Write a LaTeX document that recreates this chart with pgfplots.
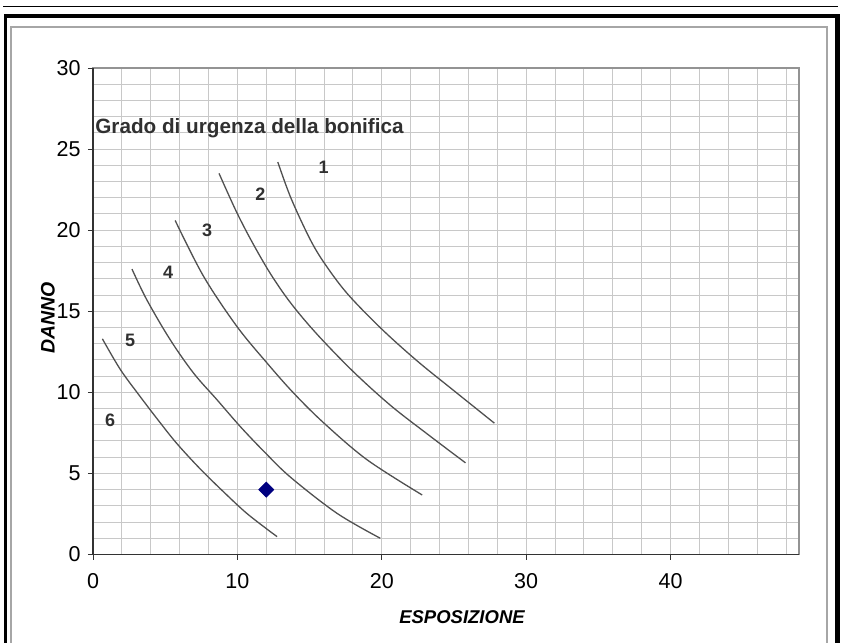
\documentclass[border=0pt]{standalone}
\usepackage{pgfplots}
\pgfplotsset{compat=1.18}
\usepackage{fontspec}
\setmainfont{Liberation Sans}
\definecolor{curvegray}{HTML}{505050}
\definecolor{gridgray}{HTML}{C8C8C8}
\definecolor{txtgray}{HTML}{303030}
\begin{document}
\begin{tikzpicture}[x=1pt,y=1pt]
\useasboundingbox (0,0) rectangle (850,642);
% outer frame
\draw[black, line width=1.5pt] (3,635.7) -- (838,635.7);
\fill[black] (4,624) rectangle (840,627.5);
\fill[black] (4,-5) rectangle (6.5,627.5);
\fill[black] (835,-5) rectangle (840,627.5);
\draw[gray!70, line width=1.3pt] (11,-5) -- (11,615) -- (827,615) -- (827,-5);
\begin{axis}[
  at={(93pt,87.5pt)}, anchor=south west,
  scale only axis, width=706pt, height=486.5pt,
  xmin=0, xmax=48.9, ymin=0, ymax=30,
  xtick={0,10,...,40}, ytick={0,5,...,30},
  minor xtick={2,4,...,48}, minor ytick={1,2,...,29},
  grid=both,
  grid style={draw=gridgray, line width=1pt},
  major grid style={draw=gridgray, line width=1pt},
  tick align=outside,
  major tick length=5pt, minor tick length=0pt,
  tick style={draw=black!80, line width=0.9pt},
  xtick pos=bottom, ytick pos=left,
  axis line style={draw=gray!85, line width=1.2pt},
  ticklabel style={font=\fontsize{21.5}{22}\selectfont},
  xticklabel style={yshift=-10pt},
  yticklabel style={xshift=-4pt},
  /pgf/number format/assume math mode=true,
  clip=false,
]
\draw[black!80, line width=1.5pt] (rel axis cs:0,1) -- (rel axis cs:0,0) -- (rel axis cs:1,0);
\addplot[curvegray, line width=1.3pt, smooth, tension=0.55] coordinates {
 (0.65,13.3) (1.9,11.4) (3.3,9.7) (4.5,8.3) (5.8,6.85) (7.4,5.3) (9.0,3.9) (10.7,2.5) (12.75,1.1)};
\addplot[curvegray, line width=1.3pt, smooth, tension=0.55] coordinates {
 (2.7,17.6) (3.73,15.7) (5.35,13.24) (6.97,11.18) (8.59,9.54) (10.2,7.89) (11.9,6.3) (13.7,4.75) (16.9,2.54) (19.9,1.0)};
\addplot[curvegray, line width=1.3pt, smooth, tension=0.55] coordinates {
 (5.69,20.6) (7.66,17.15) (9.97,14.06) (12.06,11.8) (13.9,9.95) (16.0,8.1) (19.0,5.83) (22.8,3.67)};
\addplot[curvegray, line width=1.3pt, smooth, tension=0.55] coordinates {
 (8.73,23.5) (9.9,21.2) (11.0,19.3) (12.3,17.3) (13.7,15.5) (15.5,13.6) (18.0,11.3) (20.6,9.2) (23.2,7.4) (25.8,5.65)};
\addplot[curvegray, line width=1.3pt, smooth, tension=0.55] coordinates {
 (12.8,24.2) (13.7,22.0) (15.0,19.5) (16.0,18.0) (17.6,16.1) (20.0,13.9) (22.5,11.9) (25.0,10.1) (27.8,8.1)};
\addplot[only marks, mark=square*, mark size=5.4pt, mark options={rotate=45, fill=blue!50!black, draw=blue!50!black}] coordinates {(12,4)};
\node[anchor=west, inner sep=0pt, text=txtgray, font=\fontsize{20.7}{21}\selectfont\bfseries] at (axis cs:0.15,26.3) {Grado di urgenza della bonifica};
\node[text=txtgray, font=\fontsize{18}{18}\selectfont\bfseries] at (axis cs:15.97,23.86) {1};
\node[text=txtgray, font=\fontsize{18}{18}\selectfont\bfseries] at (axis cs:11.6,22.2) {2};
\node[text=txtgray, font=\fontsize{18}{18}\selectfont\bfseries] at (axis cs:7.9,20.0) {3};
\node[text=txtgray, font=\fontsize{18}{18}\selectfont\bfseries] at (axis cs:5.2,17.4) {4};
\node[text=txtgray, font=\fontsize{18}{18}\selectfont\bfseries] at (axis cs:2.57,13.2) {5};
\node[text=txtgray, font=\fontsize{18}{18}\selectfont\bfseries] at (axis cs:1.18,8.3) {6};
\end{axis}
\node[rotate=90, font=\fontsize{19.5}{20}\selectfont\bfseries\itshape] at (48,324) {DANNO};
\node[font=\fontsize{18.5}{19}\selectfont\bfseries\itshape] at (462,25) {ESPOSIZIONE};
\end{tikzpicture}
\end{document}
